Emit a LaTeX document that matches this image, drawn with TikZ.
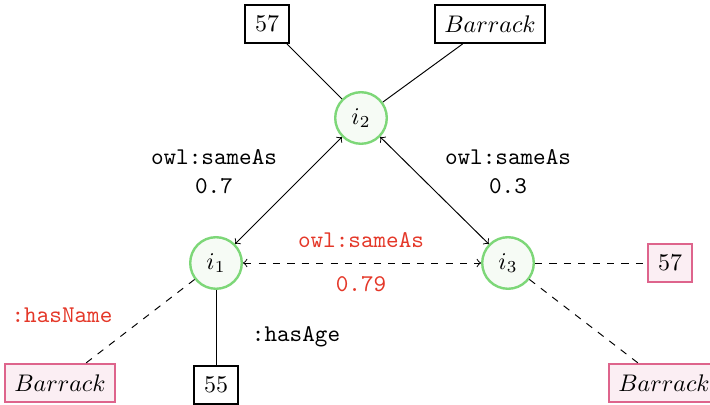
\documentclass[tikz,border=0pt]{standalone}
\usepackage{xcolor}
\definecolor{cgreen}{RGB}{125,215,120}
\definecolor{cgfill}{RGB}{246,251,245}
\definecolor{cpink}{RGB}{222,100,140}
\definecolor{cpfill}{RGB}{251,238,243}
\definecolor{cred}{RGB}{228,55,40}
\begin{document}
\begin{tikzpicture}[x=0.4167pt,y=-0.4167pt,
  inst/.style={circle,draw=cgreen,fill=cgfill,line width=1pt,minimum size=21.5pt,inner sep=0pt},
  lit/.style={draw,line width=0.8pt,minimum height=15.8pt,inner xsep=4pt},
  plit/.style={draw=cpink,fill=cpfill,line width=0.8pt,minimum height=15.8pt,inner xsep=4pt},
  edge/.style={line width=0.4pt},
  dedge/.style={line width=0.4pt,dashed},
  lbl/.style={font=\ttfamily,align=center}]
\useasboundingbox (0,0) rectangle (710,405);
\node[inst] (i2) at (361,118) {$i_2$};
\node[inst] (i1) at (216,263) {$i_1$};
\node[inst] (i3) at (508,263) {$i_3$};
\node[lit] (t57) at (267,24) {$57$};
\node[lit] (tb) at (490,24) {$Barrack$};
\node[plit] (lb) at (60,383) {$Barrack$};
\node[lit] (l55) at (216,385) {$55$};
\node[plit] (r57) at (670,263) {$57$};
\node[plit] (rb) at (664,383) {$Barrack$};
\draw[edge] (i2) -- (t57);
\draw[edge] (i2) -- (tb);
\draw[edge,<->] (i1) -- (i2);
\draw[edge,<->] (i2) -- (i3);
\draw[dedge,<->] (i1) -- (i3);
\draw[dedge] (i1) -- (lb);
\draw[edge] (i1) -- (l55);
\draw[dedge] (i3) -- (r57);
\draw[dedge] (i3) -- (rb);
\node[lbl] (la) at (214,172) {owl:sameAs\\0.7};
\node[lbl] (lc) at (508,172) {owl:sameAs\\0.3};
\node[lbl,text=cred] (ld) at (361,240) {owl:sameAs};
\node[lbl,text=cred] (le) at (361,284) {0.79};
\node[lbl,text=cred] (lf) at (62,315) {:hasName};
\node[lbl] (lg) at (296,337) {:hasAge};
\end{tikzpicture}
\end{document}
